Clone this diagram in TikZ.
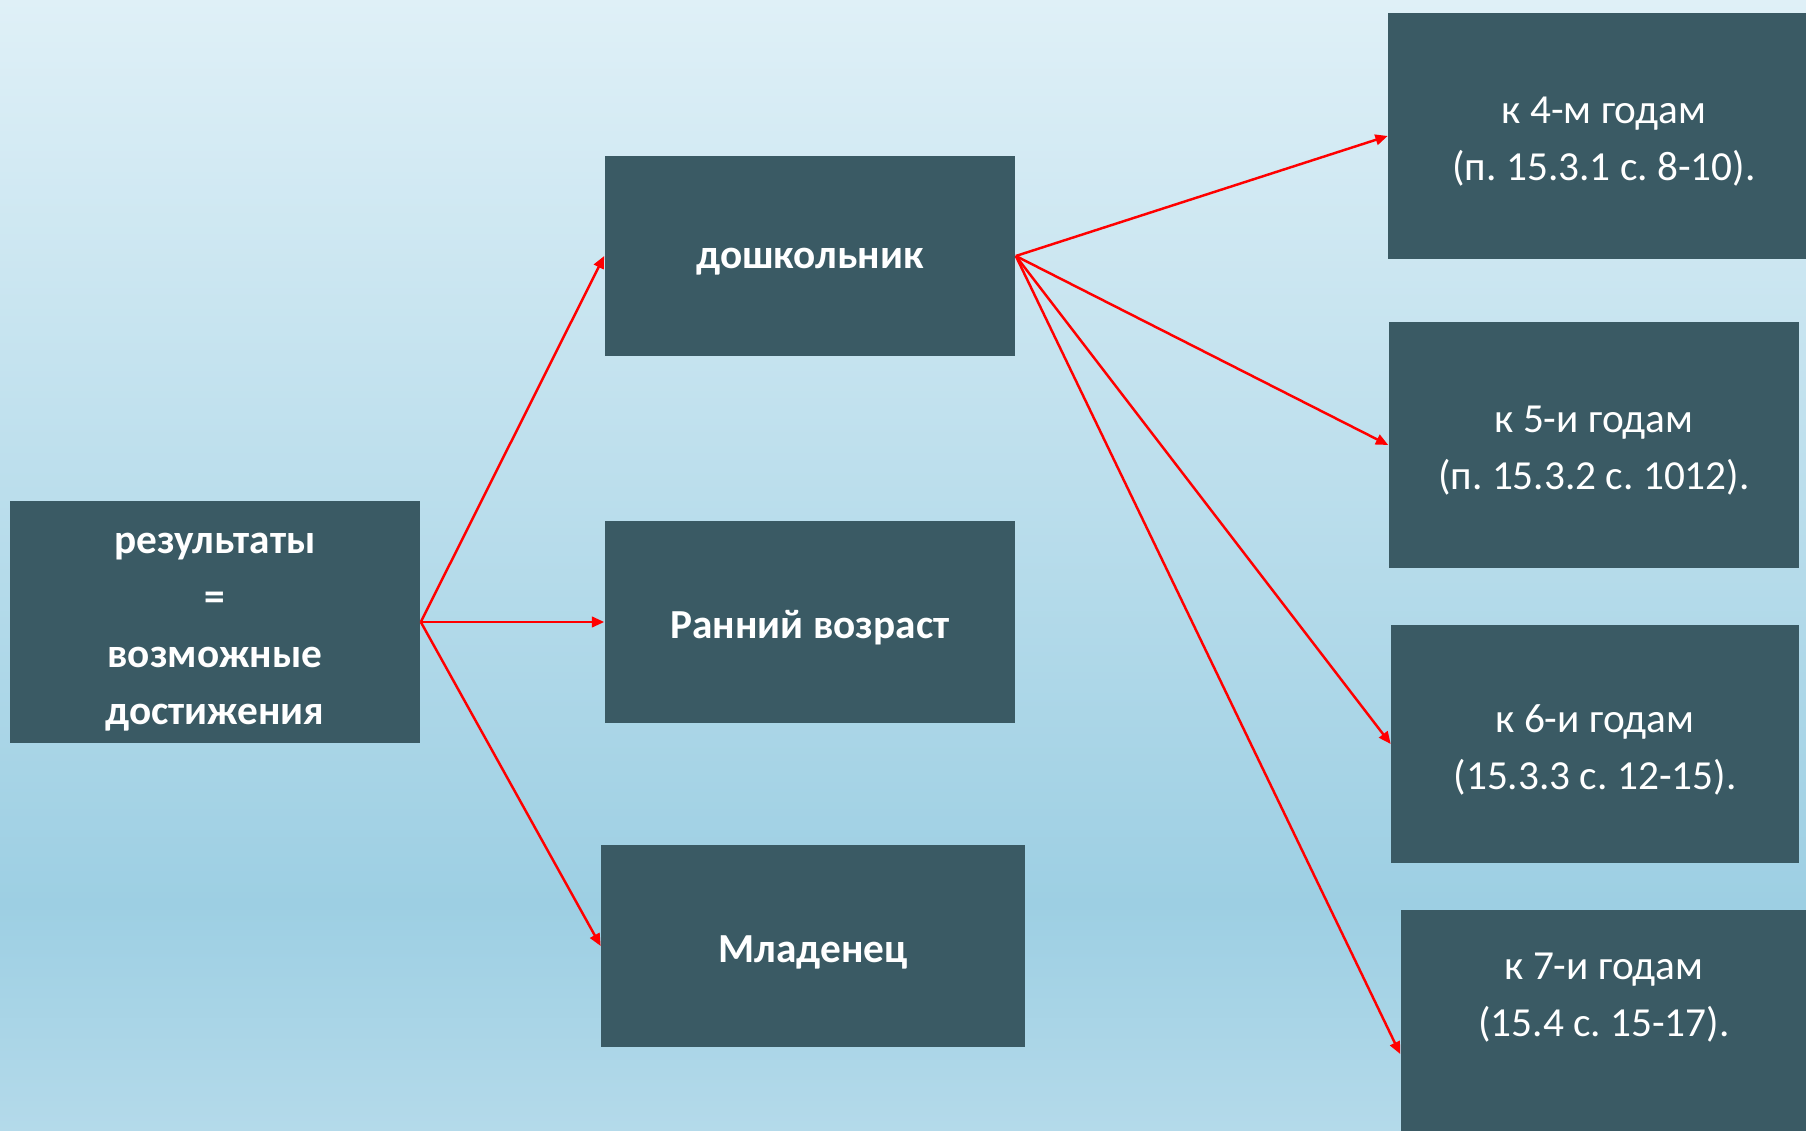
\documentclass[tikz,border=0pt]{standalone}
\usepackage{fontspec}
\setmainfont{Carlito}
\frenchspacing
\usetikzlibrary{arrows.meta}
\definecolor{boxFill}{RGB}{58,90,100}
\definecolor{bgTop}{RGB}{223,240,247}
\definecolor{bgMid}{RGB}{157,207,227}
\definecolor{bgBottom}{RGB}{180,218,234}
\pgfdeclareverticalshading{skyShade}{100bp}{%%
  color(0bp)=(bgBottom); color(25bp)=(bgBottom); color(35bp)=(bgMid);
  color(75bp)=(bgTop); color(100bp)=(bgTop)}
\newcommand{\stageBox}[7][0.12]{%%
  \node[boxStyle,minimum width=#5cm,minimum height=#6cm] (#2) at (#3,#4) {};
  \node[textStyle] (#2Text) at ([yshift=-#1cm]#2.center) {#7};
}
\newcommand{\linkArrow}[2]{%%
  \draw[arrowStyle] (#1) -- (#2);
}

\begin{document}
\begin{tikzpicture}[%%
  x=0.02cm,y=-0.02cm,%%
  boxStyle/.style={fill=boxFill,draw=none,inner sep=0pt},%%
  textStyle/.style={text=white,align=center,inner sep=0pt,%%
    font=\fontsize{23.5}{32.5}\selectfont},%%
  arrowStyle/.style={-{Triangle[length=7pt,width=6pt]},red,line width=1.4pt}
]
%%
%% The background.
\useasboundingbox (0,0) rectangle (1806,1131);
\shade[shading=skyShade] (0,0) rectangle (1806,1131);
%%
%% Left and middle boxes.
\stageBox[0.2]{results}{215}{622}{8.22}{4.86}{\fontsize{23.5}{35.6}\selectfont
  \bfseries результаты\\\bfseries =\\\bfseries возможные\\\bfseries достижения}
\stageBox{preschool}{810}{256}{8.22}{4.02}{\bfseries дошкольник}
\stageBox{early}{810}{622}{8.22}{4.06}{\bfseries Ранний возраст}
\stageBox{infant}{813}{946}{8.48}{4.06}{\bfseries Младенец}
%%
%% Right boxes, by age.
\stageBox{ageFour}{1604}{136}{8.64}{4.94}{к 4-м годам\\(п. 15.3.1 с. 8-10).}
\stageBox{ageFive}{1594}{445}{8.22}{4.94}{к 5-и годам\\(п. 15.3.2 с. 1012).}
\stageBox{ageSix}{1595}{744}{8.16}{4.76}{к 6-и годам\\(15.3.3 с. 12-15).}
\node[boxStyle,minimum width=8.38cm,minimum height=5.76cm] (ageSeven) at (1610,1054) {};
\node[textStyle] (ageSevenText) at (1604,998) {к 7-и годам\\(15.4 с. 15-17).};
%%
%% Arrows.
\linkArrow{results.east}{preschool.west}
\linkArrow{results.east}{early.west}
\linkArrow{results.east}{infant.west}
\linkArrow{preschool.east}{ageFour.west}
\linkArrow{preschool.east}{ageFive.west}
\linkArrow{preschool.east}{ageSix.west}
\linkArrow{preschool.east}{ageSeven.west}
\end{tikzpicture}
\end{document}
